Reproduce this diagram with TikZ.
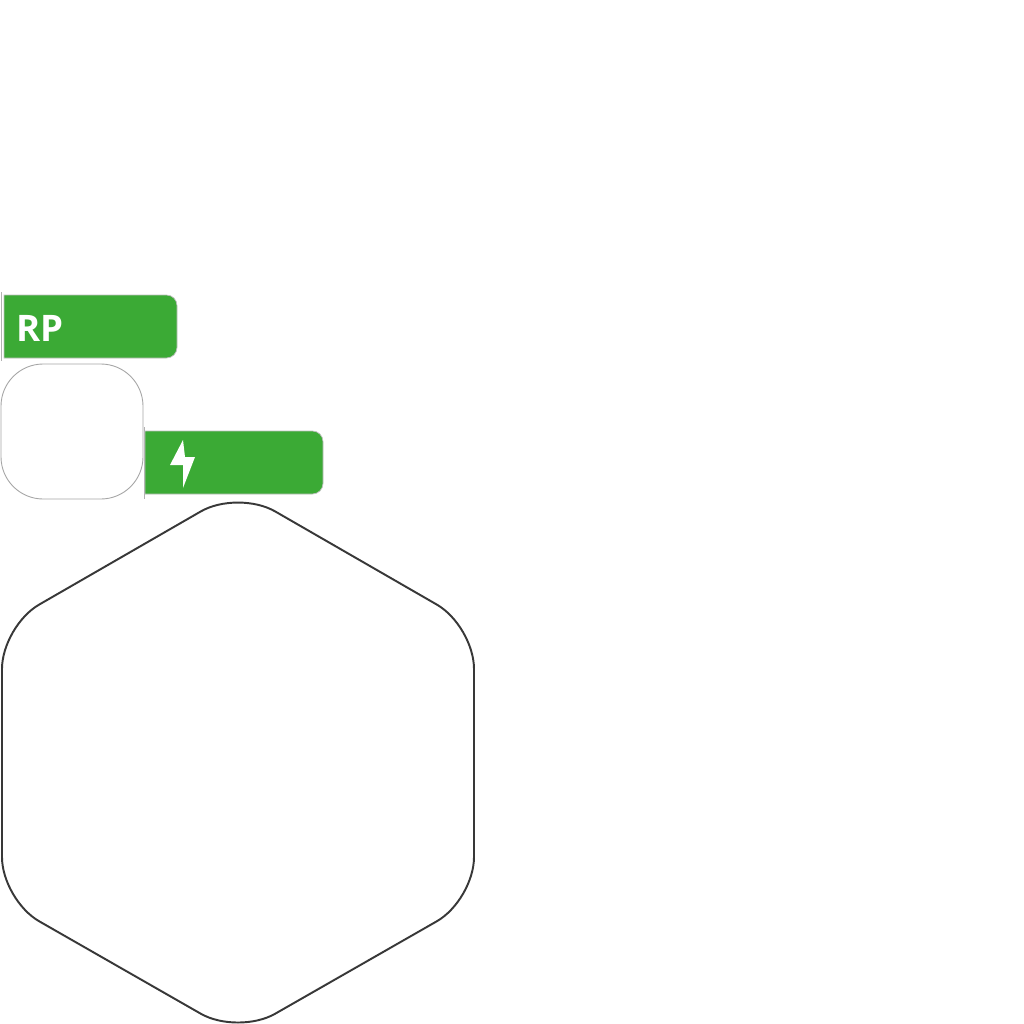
\documentclass[tikz,border=0pt]{standalone}
\usepackage{fontspec}
\setmainfont{Open Sans}
\definecolor{badgegreen}{HTML}{3BAA35}
\begin{document}
\begin{tikzpicture}[
      x=0.01cm, y=-0.01cm,
      badge/.style={draw=black!25, line width=0.2pt, fill=badgegreen},
      tick/.style={black!30, line width=0.25pt},
      tile/.style={draw=black!35, line width=0.25pt, fill=white, rounded corners=12pt},
      hexagon/.style={draw=black!78, line width=0.55pt, rounded corners=12.2pt},
      bolt/.style={fill=white},
      label/.style={text=white, font=\fontsize{10.4}{12}\selectfont\bfseries, inner sep=0pt}
    ]

    % Fix the page
    \useasboundingbox[fill=white] (0, 0) rectangle (1024, 1024);

    % Draw RP badge
    \draw[tick] (1, 292) -- (1, 361);
    \draw[badge] (90, 295) [rounded corners=3pt] -- (177, 295) -- (177, 358) -- (90, 358) [sharp corners] -- (4, 358) -- (4, 295) -- cycle;
    \node[label] (rp) at (40, 328) {RP};

    % Draw empty tile
    \draw[tile] (1, 364) rectangle (143, 499);

    % Draw charge badge
    \draw[tick] (144.5, 427) -- (144.5, 499);
    \draw[badge] (230, 431) [rounded corners=3pt] -- (323, 431) -- (323, 494) -- (230, 494) [sharp corners] -- (145, 494) -- (145, 431) -- cycle;
    \fill[bolt] (183, 440) -- (170, 465) -- (183, 465) -- (183, 488) -- (195, 457) -- (185, 457) -- cycle;

    % Draw hexagon
    \draw[hexagon] (238, 490) -- (474, 626) -- (474, 900) -- (238, 1035) -- (2, 900) -- (2, 626) -- cycle;

  \end{tikzpicture}
\end{document}
